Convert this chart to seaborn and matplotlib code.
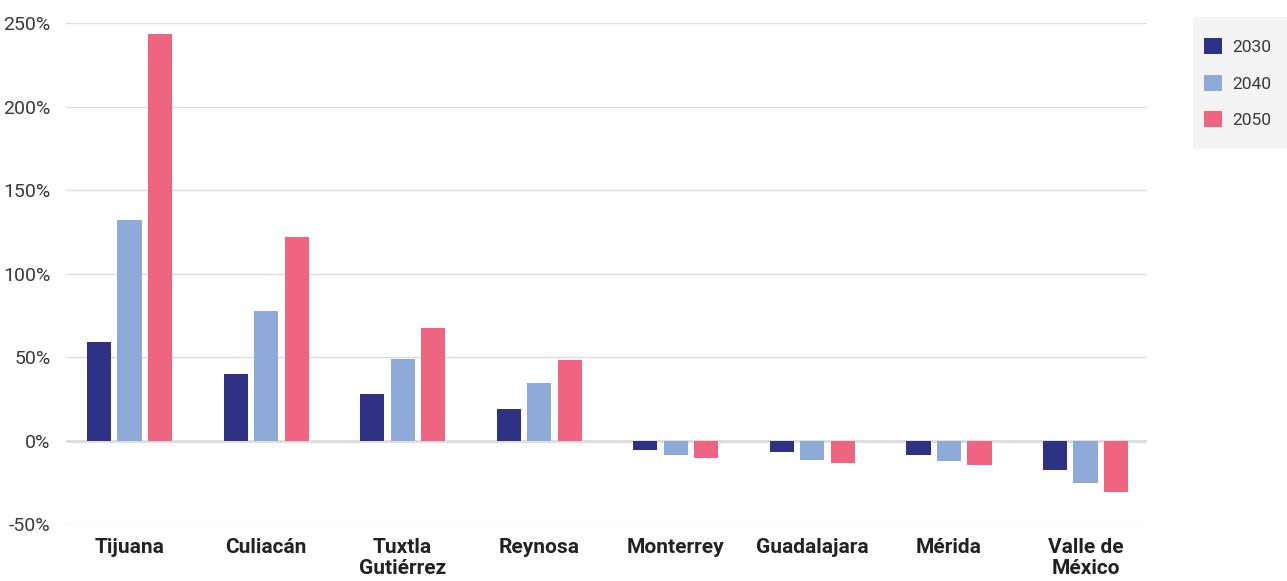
import numpy as np
import pandas as pd
import matplotlib.pyplot as plt
import seaborn as sns
from matplotlib.patches import Rectangle
from matplotlib.ticker import FuncFormatter

# ---------- datos ----------
ciudades = ["Tijuana", "Culiacán", "Tuxtla\nGutiérrez", "Reynosa", "Monterrey",
            "Guadalajara", "Mérida", "Valle de\nMéxico"]
anios = ["2030", "2040", "2050"]
v2030 = [59.2, 40, 28, 19, -5.6, -6.8, -8.6, -17.6]
v2040 = [132.3, 77.8, 49, 34.6, -8.6, -11.6, -12.2, -25.4]
v2050 = [243.8, 122, 67.5, 48.4, -10.4, -13.4, -14.6, -30.8]
colores = ["#2e3184", "#8eaad8", "#ef6480"]

df = pd.DataFrame({
    "ciudad": ciudades * 3,
    "anio": [a for a in anios for _ in ciudades],
    "valor": v2030 + v2040 + v2050,
})

sns.set_theme(style="white")
plt.rcParams['font.family'] = ['Roboto', 'DejaVu Sans']

fig = plt.figure(figsize=(12.87, 5.81), dpi=100)
ax = fig.add_axes([66 / 1287, 0.0978, (1147 - 66) / 1287, 0.8621])

sns.barplot(data=df, x="ciudad", y="valor", hue="anio", palette=colores,
            width=0.67, gap=0.21, saturation=1, linewidth=0, ax=ax, zorder=3)

ax.set_xlim(-0.465, 7.45)
ax.set_ylim(-50, 250)
ax.set_yticks(np.arange(-50, 251, 50))
ax.yaxis.set_major_formatter(FuncFormatter(lambda v, p: f"{v:.0f}%"))
ax.grid(axis="y", color="#dddddd", linewidth=1, zorder=0)
ax.axhline(0, color="#dddddd", linewidth=2, zorder=1)
for s in ax.spines.values():
    s.set_visible(False)
ax.set_xlabel("")
ax.set_ylabel("")
ax.tick_params(axis="y", length=0, pad=11, labelsize=14, labelcolor="#3a3a3a")
ax.tick_params(axis="x", length=0, pad=10)
for lbl in ax.get_xticklabels():
    lbl.set_fontweight("bold")
    lbl.set_fontsize(15)
    lbl.set_color("#222222")
    lbl.set_linespacing(1.1)
    lbl.set_verticalalignment("top")

# leyenda con fondo gris
fig.patches.append(Rectangle((1193 / 1287, 1 - 149 / 581), 94 / 1287, 132 / 581,
                             transform=fig.transFigure, facecolor="#f4f4f4",
                             edgecolor="none", zorder=0))
ax.legend_.remove()
handles, labels = ax.get_legend_handles_labels()
leg = fig.legend(handles, labels, loc="upper left",
                 bbox_to_anchor=(1204 / 1287, 1 - 38 / 581),
                 frameon=False, fontsize=12.5,
                 handlelength=1.05, handleheight=1.05, labelspacing=1.13,
                 borderpad=0, handletextpad=0.55, borderaxespad=0)
for t in leg.get_texts():
    t.set_color("#3a3a3a")

plt.savefig("out.png", dpi=100)
